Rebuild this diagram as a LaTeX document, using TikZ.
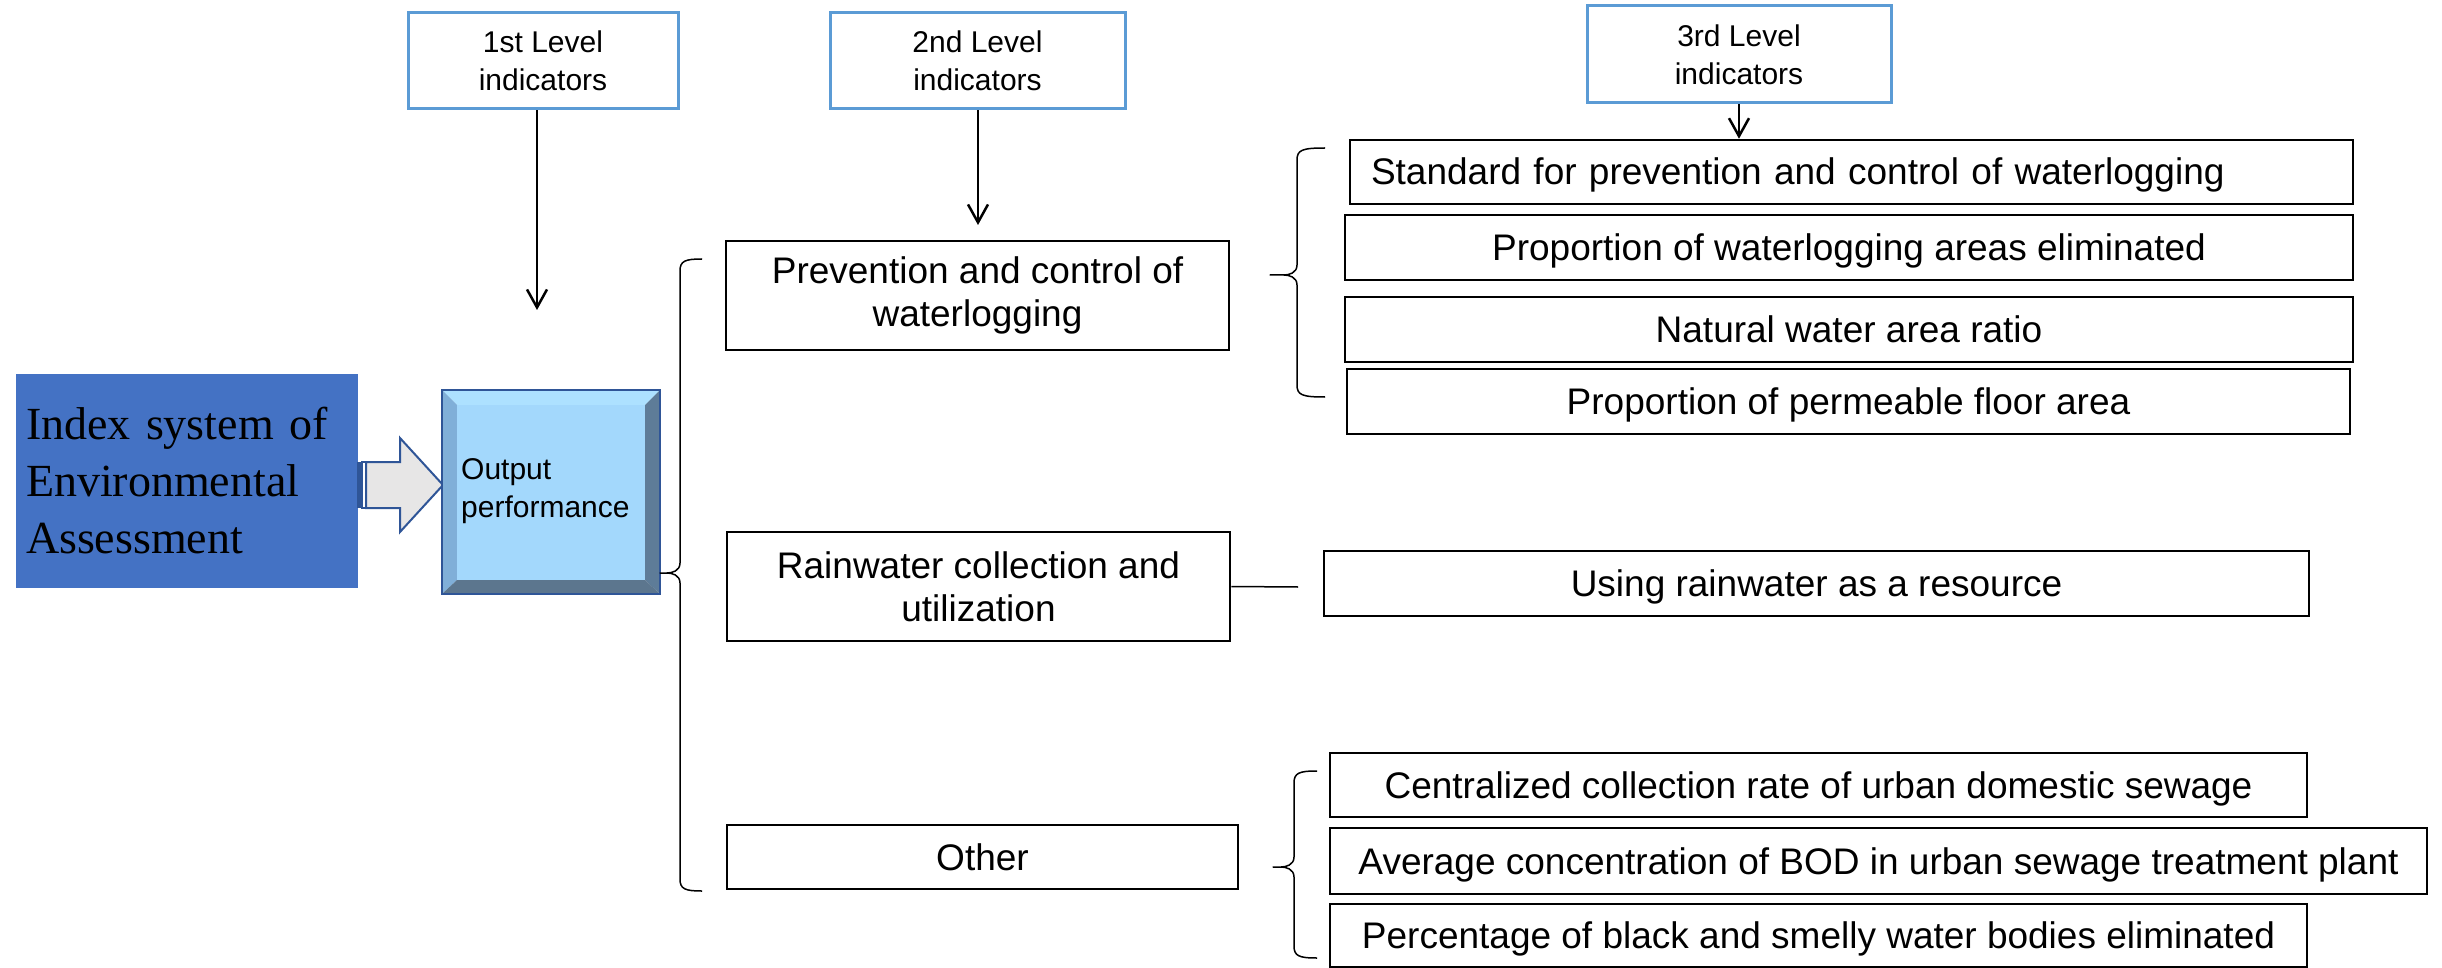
\documentclass[tikz,border=0pt]{standalone}
\usepackage{fontspec}
\setmainfont{Liberation Sans}
\newfontfamily\seriffont{Liberation Serif}
\usetikzlibrary{arrows.meta}
\definecolor{idxblue}{HTML}{4472C4}
\definecolor{lvlblue}{HTML}{5B9BD5}
\definecolor{bvface}{HTML}{A3D8FC}
\definecolor{bvtop}{HTML}{ADE1FF}
\definecolor{bvleft}{HTML}{80AFD8}
\definecolor{bvright}{HTML}{5E7C98}
\definecolor{bvbot}{HTML}{5C768E}
\definecolor{bvborder}{HTML}{2F5597}
\definecolor{arrnavy}{HTML}{2F5597}
\definecolor{arrgray}{HTML}{E7E6E6}
% #1 x of vertical, #2 top y, #3 bottom y, #4 tip x, #5 tip y, #6 hook end x
\newcommand\mybrace[6]{%
  \draw[bracestyle] (#6,#2) .. controls ({#1+5},#2) and (#1,{#2+2}) .. (#1,{#2+12})
    -- (#1,{#5-10}) .. controls (#1,{#5-2}) and ({#1-8},#5) .. ({#1-13},#5) -- (#4,#5)
    -- ({#1-13},#5) .. controls ({#1-8},#5) and (#1,{#5+2}) .. (#1,{#5+10})
    -- (#1,{#3-12}) .. controls (#1,{#3-2}) and ({#1+5},#3) .. (#6,#3);}
\begin{document}
\begin{tikzpicture}[x=1pt,y=-1pt,
  lvl/.style={draw=lvlblue, line width=3pt, fill=white, align=center,
    font=\fontsize{30}{38}\selectfont, inner sep=0pt},
  itembox/.style={draw=black, line width=2.5pt, fill=white, align=center,
    font=\fontsize{37}{43}\selectfont, inner sep=0pt},
  oneline/.style={itembox, text height=29pt, text depth=3pt},
  arr/.style={line width=2.5pt, -{Straight Barb[length=18pt,width=20pt]}},
  bracestyle/.style={line width=1.5pt, line join=round}]
\useasboundingbox (0,0) rectangle (2442,968);

% level header boxes
\node[lvl, minimum width=270pt, minimum height=96pt] (L1) at (543,61) {1st Level\\indicators};
\node[lvl, minimum width=295pt, minimum height=96pt] (L2) at (977.5,61) {2nd Level\\indicators};
\node[lvl, minimum width=304pt, minimum height=97pt] (L3) at (1739,54.5) {3rd Level\\indicators};

% index box
\node[fill=idxblue, minimum width=342pt, minimum height=214pt, text width=322pt,
  inner xsep=10pt, inner ysep=0pt, align=left,
  font=\seriffont\fontsize{46}{57}\selectfont] (idx) at (187,481)
  {Index system of\\Environmental\\Assessment};

% block arrow
\fill[arrnavy] (357,462) rectangle (362,508);
\draw[arrnavy, line width=1.5pt, fill=white] (362,462) rectangle (366,508);
\draw[arrnavy, line width=2pt, fill=arrgray, line join=miter]
  (366,462) -- (400,462) -- (400,438) -- (443,485) -- (400,532) -- (400,508) -- (366,508) -- cycle;

% bevel box
\node[minimum width=218pt, minimum height=204pt, inner sep=0pt] (out) at (551,492) {};
\fill[bvtop] (442,390) -- (660,390) -- (645,405) -- (457,405) -- cycle;
\fill[bvleft] (442,390) -- (457,405) -- (457,580) -- (442,594) -- cycle;
\fill[bvright] (660,390) -- (660,594) -- (645,580) -- (645,405) -- cycle;
\fill[bvbot] (442,594) -- (457,580) -- (645,580) -- (660,594) -- cycle;
\fill[bvface] (457,405) rectangle (645,580);
\draw[bvborder, line width=2.5pt] (out.north west) rectangle (out.south east);
\node[anchor=west, inner sep=0pt, align=left, font=\fontsize{30}{38}\selectfont] (outtxt) at (461,491) {Output\\performance};

% second level
\node[itembox, minimum width=503pt, minimum height=109pt] (prev) at (977.5,295.5) {Prevention and control of\\waterlogging};
\node[itembox, minimum width=503pt, minimum height=109pt] (rain) at (978.5,586.5) {Rainwater collection and\\utilization};
\node[oneline, minimum width=511pt, minimum height=64pt] (other) at (982.5,857) {Other};

% third level
\node[oneline, minimum width=1003pt, minimum height=64pt, text width=961pt, align=left, inner xsep=21pt] (std) at (1851.5,172) {Standard for prevention and control of waterlogging};
\node[oneline, minimum width=1008pt, minimum height=65pt] (prop) at (1849,247.5) {Proportion of waterlogging areas eliminated};
\node[oneline, minimum width=1008pt, minimum height=65pt] (nat) at (1849,329.5) {Natural water area ratio};
\node[oneline, minimum width=1003pt, minimum height=65pt] (perm) at (1848.5,401.5) {Proportion of permeable floor area};
\node[oneline, minimum width=985pt, minimum height=65pt] (use) at (1816.5,583.5) {Using rainwater as a resource};
\node[oneline, minimum width=977pt, minimum height=64pt] (cent) at (1818.5,785) {Centralized collection rate of urban domestic sewage};
\node[oneline, minimum width=1097pt, minimum height=66pt] (avg) at (1878.5,861) {Average concentration of BOD in urban sewage treatment plant};
\node[oneline, minimum width=977pt, minimum height=63pt] (pct) at (1818.5,935.5) {Percentage of black and smelly water bodies eliminated};

% arrows from headers
\coordinate (a1) at (537,310);
\coordinate (a2) at (978,225);
\draw[arr] (L1.south -| a1) -- (a1);
\draw[arr] (L2.south -| a2) -- (a2);
\draw[arr] (L3.south) -- (L3.south |- std.north);

% rainwater connector
\coordinate (rl) at (1298,587);
\draw[line width=1.5pt] (rain.east) -- (rl);

% braces
\mybrace{680}{259}{891}{660}{573}{702}
\mybrace{1297}{148}{397}{1270}{275}{1325}
\mybrace{1294}{771}{958}{1273}{867}{1317}
\end{tikzpicture}
\end{document}
